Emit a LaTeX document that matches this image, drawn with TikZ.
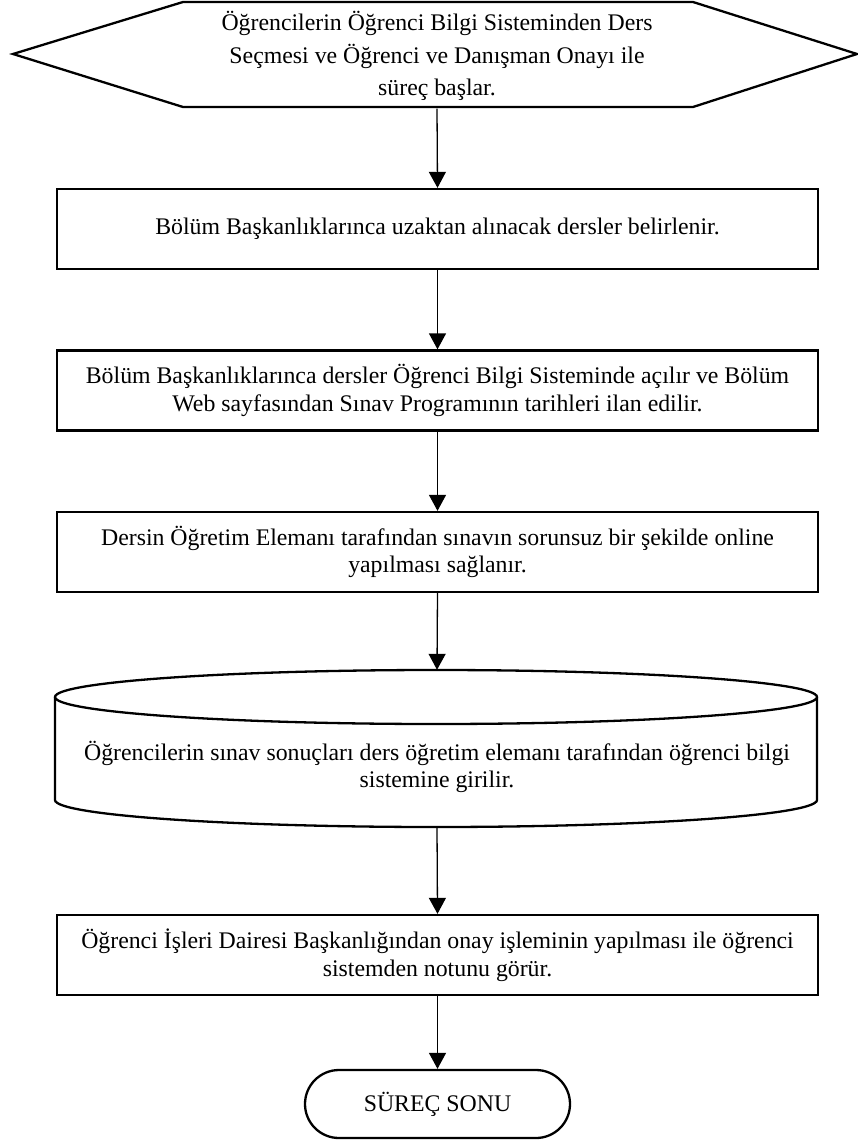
\documentclass[tikz,border=0pt]{standalone}
\usepackage{fontspec}
\setmainfont{Liberation Serif}
\usetikzlibrary{arrows.meta}
\begin{document}
\begin{tikzpicture}[x=1pt,y=-1pt,
  shapeline/.style={line width=2.3pt, line join=miter},
  txt/.style={font=\fontsize{23.8}{27.5}\selectfont, align=center, inner sep=0pt},
  stepbox/.style={shapeline, draw, rectangle, minimum width=761pt, minimum height=80pt, inner sep=0pt, txt},
  ghost/.style={inner sep=0pt, txt},
  flow/.style={line width=1.3pt, -{Triangle[length=16pt,width=17pt]}}
]
\path[use as bounding box, fill=white] (0,0) rectangle (858,1142);

% start hexagon
\node[ghost, minimum width=844pt, minimum height=105pt, font=\fontsize{23.8}{32.5}\selectfont] (start) at (437,56)
  {Öğrencilerin Öğrenci Bilgi Sisteminden Ders\\Seçmesi ve Öğrenci ve Danışman Onayı ile\\süreç başlar.};
\draw[shapeline] (13,54) -- (183,2) -- (693,2) -- (857,54) -- (693,107) -- (183,107) -- cycle;

\node[stepbox] (b1) at (437.5,229) {Bölüm Başkanlıklarınca uzaktan alınacak dersler belirlenir.};
\node[stepbox] (b2) at (437.5,390.5) {Bölüm Başkanlıklarınca dersler Öğrenci Bilgi Sisteminde açılır ve Bölüm\\Web sayfasından Sınav Programının tarihleri ilan edilir.};
\node[stepbox] (b3) at (437.5,552) {Dersin Öğretim Elemanı tarafından sınavın sorunsuz bir şekilde online\\yapılması sağlanır.};

% cylinder
\node[ghost, minimum width=762pt, minimum height=157pt] (cyl) at (437,748.5) {};
\draw[shapeline] (436,697) ellipse [x radius=381, y radius=27];
\draw[shapeline] (55,697) -- (55,800) arc[start angle=180, end angle=0, x radius=381, y radius=27] -- (817,697);
\node[ghost] (cyltext) at (437,767) {Öğrencilerin sınav sonuçları ders öğretim elemanı tarafından öğrenci bilgi\\sistemine girilir.};

\node[stepbox] (b5) at (437.5,955) {Öğrenci İşleri Dairesi Başkanlığından onay işleminin yapılması ile öğrenci\\sistemden notunu görür.};

\node[shapeline, draw, rounded corners=34pt, minimum width=265pt, minimum height=68pt, txt] (stop) at (437.5,1104) {SÜREÇ SONU};

\draw[flow] (start.south) -- (b1.north);
\draw[flow] (b1.south) -- (b2.north);
\draw[flow] (b2.south) -- (b3.north);
\draw[flow] (b3.south) -- (cyl.north);
\draw[flow] (cyl.south) -- (b5.north);
\draw[flow] (b5.south) -- (stop.north);
\end{tikzpicture}
\end{document}
